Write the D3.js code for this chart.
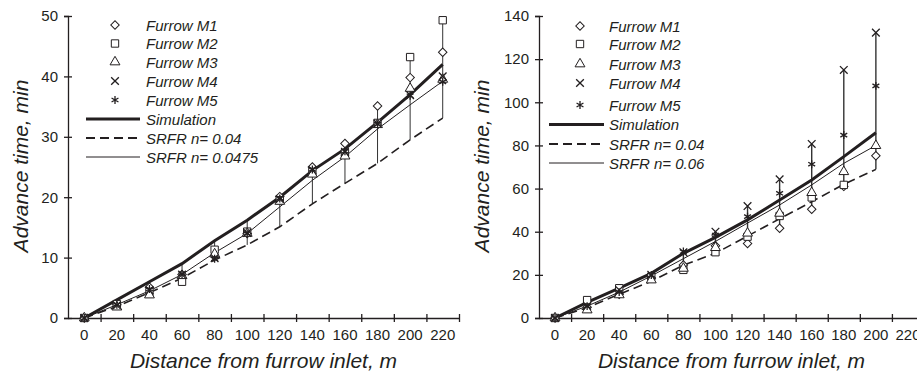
<!DOCTYPE html>
<html>
<head>
<meta charset="utf-8">
<script src="https://cdn.jsdelivr.net/npm/d3@7"></script>
<style>
body { margin: 0; background: #fff; }
text { font-family: "Liberation Sans", Arial, sans-serif; fill: #231f20; }
</style>
</head>
<body>
<script>
// ---- data ----
const distLabels = [0, 20, 40, 60, 80, 100, 120, 140, 160, 180, 200, 220];

// left panel
const leftM1 = [0, 2.2, 5.1, 7.2, 10.2, 14.0, 20.1, 25.0, 28.9, 35.1, 39.8, 44.0];
const leftM2 = [0, 2.3, 4.3, 6.0, 11.3, 14.3, 19.5, 24.2, 27.3, 32.3, 43.2, 49.3];
const leftM3 = [0, 1.8, 3.8, 7.0, 10.6, 14.0, 19.3, 23.8, 26.8, 32.0, 38.0, 39.5];
const leftM4 = [0, 2.1, 4.6, 7.2, 9.9, 14.1, 19.7, 24.5, 27.5, 32.2, 36.9, 40.0];
const leftM5 = [0, 2.2, 4.8, 7.3, 9.8, 14.0, 19.8, 24.6, 27.6, 32.1, 36.8, 39.1];
const leftSim = [0, 3.0, 6.0, 9.0, 12.8, 16.2, 20.0, 24.4, 28.0, 32.4, 37.0, 42.0];
const leftSrfr04 = [0, 1.9, 4.2, 6.6, 9.6, 12.1, 15.1, 18.9, 22.3, 25.6, 29.5, 33.1];
const leftSrfr0475 = [0, 2.2, 4.5, 7.2, 10.8, 14.0, 18.4, 22.8, 26.7, 31.3, 35.3, 39.2];

// right panel (no data at 220)
const rightM1 = [0, 5.0, 11.0, 18.5, 24.6, 33.5, 34.5, 41.6, 50.4, 61.0, 75.2];
const rightM2 = [0, 8.3, 13.8, 19.2, 22.3, 30.5, 37.7, 47.3, 55.9, 61.7, null];
const rightM3 = [0, 3.7, 10.7, 17.6, 23.0, 32.6, 39.3, 48.5, 58.1, 67.8, 79.9];
const rightM4 = [0, 5.6, 13.0, 20.0, 30.5, 40.0, 51.9, 64.3, 80.7, 115.0, 132.3];
const rightM5 = [0, 5.5, 12.0, 19.9, 30.8, 38.5, 47.0, 57.8, 71.3, 84.8, 107.6];
const rightSim = [0, 7.2, 13.8, 20.7, 30.0, 37.4, 45.5, 54.7, 64.0, 74.8, 85.9];
const rightSrfr04 = [0, 4.8, 11.0, 17.0, 24.5, 30.0, 38.0, 46.0, 53.9, 62.0, 68.9];
const rightSrfr06 = [0, 5.5, 12.0, 19.5, 27.5, 35.5, 44.0, 52.4, 61.7, 71.7, 80.0];

const markerNames = ["Furrow M1", "Furrow M2", "Furrow M3", "Furrow M4", "Furrow M5"];

const ink = "#231f20";

function markerPath(kind) {
    if (kind === 0) return d3.symbol(d3.symbolSquare, 36)();      // diamond (rotated)
    if (kind === 1) return d3.symbol(d3.symbolSquare, 54)();
    if (kind === 2) return d3.symbol(d3.symbolTriangle, 42)();
    if (kind === 3) return d3.symbol(d3.symbolTimes, 40)();
    return d3.symbol(d3.symbolAsterisk, 44)();
}

function drawMarker(g, kind, x, y) {
    g.append("path")
        .attr("d", markerPath(kind))
        .attr("transform", "translate(" + x + "," + y + ")" + (kind === 0 ? " rotate(45)" : ""))
        .attr("fill", kind < 3 ? "#fff" : "none")
        .attr("stroke", ink)
        .attr("stroke-width", kind > 2 ? 1.3 : 1);
}

function drawPanel(svg, p) {
    const g = svg.append("g");

    const xBand = d3.scaleBand()
        .domain(distLabels)
        .range([p.x0, p.x1]);
    const xIdx = d3.scaleLinear()
        .domain([0, distLabels.length])
        .range([p.x0, p.x1]);
    const y = d3.scaleLinear()
        .domain([0, p.yMax])
        .range([318, 16]);
    const cx = i => xBand(distLabels[i]) + xBand.bandwidth() / 2;

    // axes
    const yAxis = g.append("g")
        .attr("transform", "translate(" + p.x0 + ",0)")
        .call(d3.axisLeft(y).tickValues(d3.range(0, p.yMax + 1, p.yStep)).tickSize(4).tickPadding(6));
    yAxis.select(".domain").attr("stroke", ink).attr("stroke-width", 1.3);
    yAxis.selectAll(".tick line").attr("x1", 4).attr("stroke", ink).attr("stroke-width", 1.3);
    yAxis.selectAll("text").style("font-size", "15px").attr("fill", ink);

    const xTicks = g.append("g")
        .attr("transform", "translate(0,318)")
        .call(d3.axisBottom(xIdx).tickValues(d3.range(1, distLabels.length + 1)).tickSize(4).tickFormat(""));
    xTicks.select(".domain").remove();
    xTicks.selectAll(".tick line").attr("y1", -4).attr("stroke", ink).attr("stroke-width", 1.3);

    const xAxis = g.append("g")
        .attr("transform", "translate(0,318)")
        .call(d3.axisBottom(xBand).tickSize(0).tickPadding(11).tickSizeOuter(0));
    xAxis.select(".domain").attr("stroke", ink).attr("stroke-width", 1.3);
    xAxis.selectAll("text").style("font-size", "15px").attr("fill", ink);

    // titles
    g.append("text")
        .attr("x", (p.x0 + p.x1) / 2)
        .attr("y", 368)
        .attr("text-anchor", "middle")
        .style("font-size", "21px")
        .style("font-style", "italic")
        .text("Distance from furrow inlet, m");
    g.append("text")
        .attr("transform", "translate(" + p.titleX + ",166) rotate(-90)")
        .attr("text-anchor", "middle")
        .style("font-size", "21px")
        .style("font-style", "italic")
        .text("Advance time, min");

    const allSeries = p.markers.concat([p.sim, p.srfrA, p.srfrB]);

    // high-low lines
    const nPts = p.sim.length;
    for (let i = 0; i < nPts; i++) {
        const vals = allSeries.map(s => s[i]).filter(v => v != null);
        const ext = d3.extent(vals);
        g.append("line")
            .attr("x1", cx(i)).attr("x2", cx(i))
            .attr("y1", y(ext[0])).attr("y2", y(ext[1]))
            .attr("stroke", "#333").attr("stroke-width", p.hlWidth);
    }

    const line = d3.line()
        .defined(d => d != null)
        .x((d, i) => cx(i))
        .y(d => y(d));

    g.append("path").datum(p.srfrA).attr("d", line)
        .attr("fill", "none").attr("stroke", ink).attr("stroke-width", 1.6).attr("stroke-dasharray", "9,5");
    g.append("path").datum(p.srfrB).attr("d", line)
        .attr("fill", "none").attr("stroke", ink).attr("stroke-width", 1);
    g.append("path").datum(p.sim).attr("d", line)
        .attr("fill", "none").attr("stroke", ink).attr("stroke-width", 3);

    p.markers.forEach((s, k) => {
        s.forEach((v, i) => {
            if (v != null) drawMarker(g, k, cx(i), y(v));
        });
    });

    // legend
    const lg = g.append("g");
    markerNames.forEach((name, k) => {
        const ly = p.legY[k];
        drawMarker(lg, k, p.legSym, ly);
        lg.append("text").attr("x", p.legText).attr("y", ly + 5.5)
            .style("font-size", "15px").style("font-style", "italic").text(name);
    });
    const lineItems = [
        {name: "Simulation", w: 3, dash: null},
        {name: "SRFR n= 0.04", w: 2, dash: "9,5"},
        {name: p.thinName, w: 1, dash: null}
    ];
    lineItems.forEach((it, j) => {
        const ly = p.legY[5 + j];
        lg.append("line")
            .attr("x1", p.legL0).attr("x2", p.legL1)
            .attr("y1", ly).attr("y2", ly)
            .attr("stroke", ink).attr("stroke-width", it.w)
            .attr("stroke-dasharray", it.dash);
        lg.append("text").attr("x", p.legText).attr("y", ly + 5.5)
            .style("font-size", "15px").style("font-style", "italic").text(it.name);
    });
}

function init() {
    const svg = d3.select("body").append("svg")
        .attr("width", 917)
        .attr("height", 374);

    drawPanel(svg, {
        x0: 68, x1: 459, yMax: 50, yStep: 10, titleX: 28,
        markers: [leftM1, leftM2, leftM3, leftM4, leftM5],
        sim: leftSim, srfrA: leftSrfr04, srfrB: leftSrfr0475,
        thinName: "SRFR n= 0.0475", hlWidth: 1,
        legSym: 115, legText: 146, legL0: 86, legL1: 140,
        legY: [25, 43.5, 62, 81, 100, 119, 138, 157]
    });

    drawPanel(svg, {
        x0: 539, x1: 924, yMax: 140, yStep: 20, titleX: 489,
        markers: [rightM1, rightM2, rightM3, rightM4, rightM5],
        sim: rightSim, srfrA: rightSrfr04, srfrB: rightSrfr06,
        thinName: "SRFR n= 0.06", hlWidth: 1.4,
        legSym: 580, legText: 609, legL0: 549, legL1: 604,
        legY: [26, 44, 64, 83, 105, 124.5, 144, 163]
    });
}
window.onload = init;
</script>
</body>
</html>
